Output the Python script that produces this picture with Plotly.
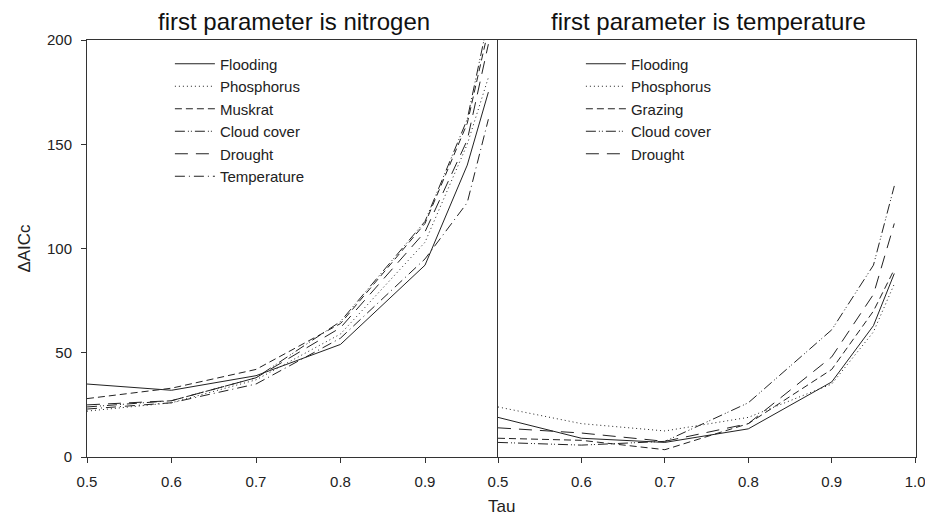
import plotly.graph_objects as go
from plotly.subplots import make_subplots

tau = [0.5, 0.6, 0.7, 0.8, 0.9, 0.95, 0.975]

# Left panel: first parameter is nitrogen
left_names = ["Flooding", "Phosphorus", "Muskrat", "Cloud cover", "Drought", "Temperature"]
left_values = {
    "Flooding":    [35, 32, 39, 54, 92, 140, 175],
    "Phosphorus":  [22, 26, 37, 59, 103, 150, 182],
    "Muskrat":     [28, 33, 42, 64, 112, 160, 205],
    "Cloud cover": [24, 27, 38, 65, 113, 162, 210],
    "Drought":     [25, 27, 38, 62, 108, 152, 198],
    "Temperature": [23, 26, 35, 57, 95, 122, 162],
}

# Right panel: first parameter is temperature
right_names = ["Flooding", "Phosphorus", "Grazing", "Cloud cover", "Drought"]
right_values = {
    "Flooding":    [19, 9, 7, 13.5, 36, 63, 88],
    "Phosphorus":  [24, 16, 12.5, 19, 35, 60, 83],
    "Grazing":     [9, 8, 3.5, 16, 42, 70, 90],
    "Cloud cover": [7, 5.7, 7.5, 26, 61, 92, 130],
    "Drought":     [14, 11.5, 7.5, 16, 48, 78, 112],
}

x_ticks = [0.5, 0.6, 0.7, 0.8, 0.9, 1.0]
y_ticks = [0, 50, 100, 150, 200]

dashes = {
    "Flooding": "solid",
    "Phosphorus": "1px,3px",
    "Muskrat": "7px,4px",
    "Grazing": "7px,4px",
    "Cloud cover": "10px,3px,1px,2px,1px,3px",
    "Drought": "13px,8px",
    "Temperature": "10px,4px,1px,4px",
}

FONT = "Liberation Sans, Arial, sans-serif"
LINE = "#222222"

fig = make_subplots(rows=1, cols=2, horizontal_spacing=0, shared_yaxes=True,
                    subplot_titles=("first parameter is nitrogen", "first parameter is temperature"))

for n in left_names:
    fig.add_trace(go.Scatter(x=tau, y=left_values[n], mode="lines", name=n,
                             line=dict(color=LINE, width=1, dash=dashes[n]),
                             legend="legend"), row=1, col=1)
for n in right_names:
    fig.add_trace(go.Scatter(x=tau, y=right_values[n], mode="lines", name=n,
                             line=dict(color=LINE, width=1, dash=dashes[n]),
                             legend="legend2"), row=1, col=2)

W, H = 925, 519
ml, mr, mt, mb = 87, 9, 40, 62
pw = W - ml - mr
ph = H - mt - mb
split = (498 - ml) / pw

axis_common = dict(showline=True, linecolor="#333333", linewidth=1, mirror=True,
                   ticks="outside", ticklen=5, tickcolor="#333333", showgrid=False,
                   zeroline=False, ticklabelstandoff=6, ticklabeloverflow="allow",
                   automargin=False,
                   tickfont=dict(family=FONT, size=15, color="#222222"))

fig.update_xaxes(**axis_common, tickvals=x_ticks, ticktext=["%.1f" % v for v in x_ticks])
fig.update_xaxes(range=[0.5, 0.5 + (498 - 87) / 84.5 * 0.1], domain=[0, split], row=1, col=1)
fig.update_xaxes(range=[0.5, 1.001], domain=[split, 1], row=1, col=2)
fig.update_yaxes(**axis_common, range=[0, 200], tickvals=y_ticks)
fig.update_yaxes(mirror=False,
                 title=dict(text="ΔAICc", font=dict(family=FONT, size=17, color="#222222"), standoff=12),
                 row=1, col=1)
fig.update_yaxes(ticks="", row=1, col=2)

for a in fig.layout.annotations:
    a.font = dict(family=FONT, size=24, color="#111111")
    a.y = 1.0
    a.yshift = 3

fig.add_annotation(text="Tau", x=0.5, y=-50 / ph, xref="paper", yref="paper", xanchor="center",
                   yanchor="middle", showarrow=False, font=dict(family=FONT, size=17, color="#222222"))

legend_style = dict(font=dict(family=FONT, size=15, color="#222222"), bgcolor="rgba(0,0,0,0)",
                    borderwidth=0, itemwidth=40, tracegroupgap=0, yanchor="top", xanchor="left")

fig.update_layout(
    width=W, height=H,
    margin=dict(l=ml, r=mr, t=mt, b=mb, autoexpand=False),
    paper_bgcolor="white", plot_bgcolor="white",
    font=dict(family=FONT, color="#222222"),
    legend=dict(**legend_style, x=0.1, y=0.982),
    legend2=dict(**legend_style, x=split + 0.1, y=0.982),
    showlegend=True,
)

fig.write_html("out.html")
